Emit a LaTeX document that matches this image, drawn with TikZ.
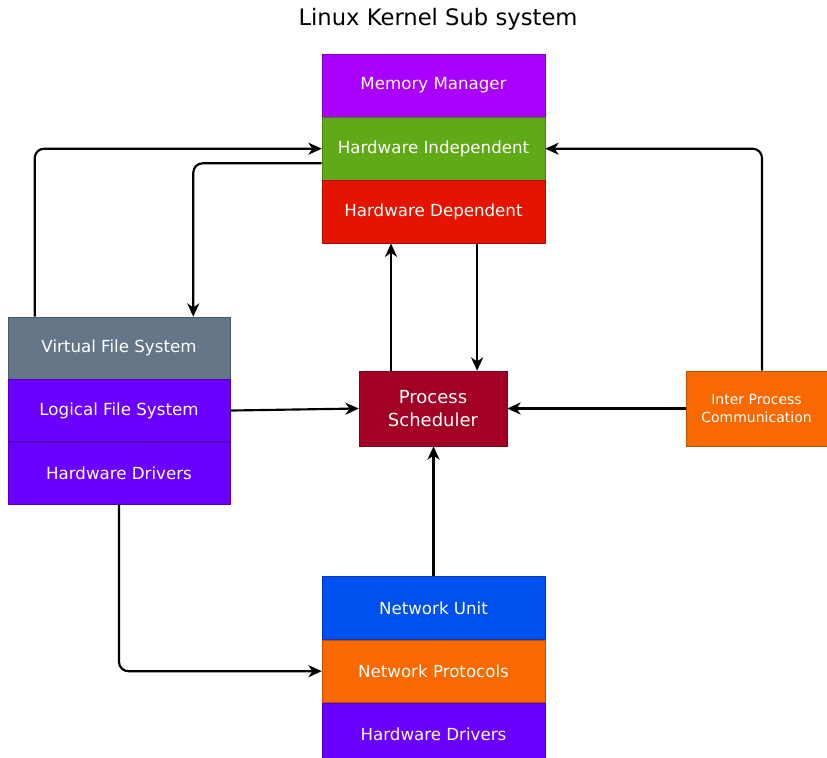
\documentclass[tikz,border=0pt]{standalone}
\usepackage{fontspec}
\setmainfont{DejaVu Sans}
\usepackage{tikz}
\usetikzlibrary{arrows.meta,positioning,calc}

\definecolor{mmPurple}{HTML}{AA00FF}
\definecolor{hwiGreen}{HTML}{60A917}
\definecolor{hwdRed}{HTML}{E51400}
\definecolor{vfsGray}{HTML}{647687}
\definecolor{drvViolet}{HTML}{6A00FF}
\definecolor{psCrimson}{HTML}{A20025}
\definecolor{ipcOrange}{HTML}{FA6800}
\definecolor{netBlue}{HTML}{0050EF}

\begin{document}
\begin{tikzpicture}[
  x=0.75pt, y=-0.75pt,
  font=\fontsize{12.5}{15}\selectfont,
  layer/.style={
    draw=#1!75!black,
    fill=#1,
    text=white,
    align=center,
    minimum width=167.25pt,
    minimum height=47pt,
    inner sep=2pt
  },
  sidelayer/.style={layer=#1, minimum width=166.5pt, minimum height=46.5pt},
  single/.style={layer=#1, minimum height=56.25pt},
  arrow/.style={-{Stealth[length=10pt,width=9pt,inset=3pt]}, line width=1.6pt},
  elbow/.style={arrow, rounded corners=7pt}
]
\useasboundingbox (0,0) rectangle (827,757);

\node[font=\fontsize{17}{20}\selectfont] (title) at (438,19) {Linux Kernel Sub system};

\node[layer=mmPurple] (MM) at (433.5,85.5) {Memory Manager};
\node[layer=hwiGreen, below=0pt of MM] (HWI) {Hardware Independent};
\node[layer=hwdRed, below=0pt of HWI] (HWD) {Hardware Dependent};

\node[sidelayer=vfsGray] (VFS) at (119,348) {Virtual File System};
\node[sidelayer=drvViolet, below=0pt of VFS] (LFS) {Logical File System};
\node[sidelayer=drvViolet, below=0pt of LFS] (FSDRV) {Hardware Drivers};

\node[single=psCrimson, minimum width=111pt, font=\fontsize{13.5}{17}\selectfont] (PS) at (433,408.5) {Process\\Scheduler};
\node[single=ipcOrange, minimum width=105.75pt, font=\fontsize{10.5}{13}\selectfont] (IPC) at (756.5,408.5) {Inter Process\\Communication};

\node[layer=netBlue] (NU) at (433.5,608) {Network Unit};
\node[layer=ipcOrange, below=0pt of NU] (NP) {Network Protocols};
\node[layer=drvViolet, below=0pt of NP] (NETDRV) {Hardware Drivers};

\coordinate (hwdUp) at ($(HWD.south west)!0.31!(HWD.south east)$);
\coordinate (hwdDown) at ($(HWD.south west)!0.695!(HWD.south east)$);

\draw[elbow] ($(VFS.north west)+(27,0)$) |- (HWI.west);
\draw[elbow] ($(HWI.south west)+(0,-17)$) -| ($(VFS.north east)+(-37,0)$);
\draw[elbow] ($(IPC.north)+(5.5,0)$) |- (HWI.east);
\draw[arrow] (PS.north -| hwdUp) -- (hwdUp);
\draw[arrow] (hwdDown) -- (hwdDown |- PS.north);
\draw[arrow] (LFS.east) -- (PS.west);
\draw[arrow] (IPC.west) -- (PS.east);
\draw[arrow] (NU.north) -- (NU.north |- PS.south);
\draw[elbow] (FSDRV.south) |- (NP.west);
\end{tikzpicture}
\end{document}
